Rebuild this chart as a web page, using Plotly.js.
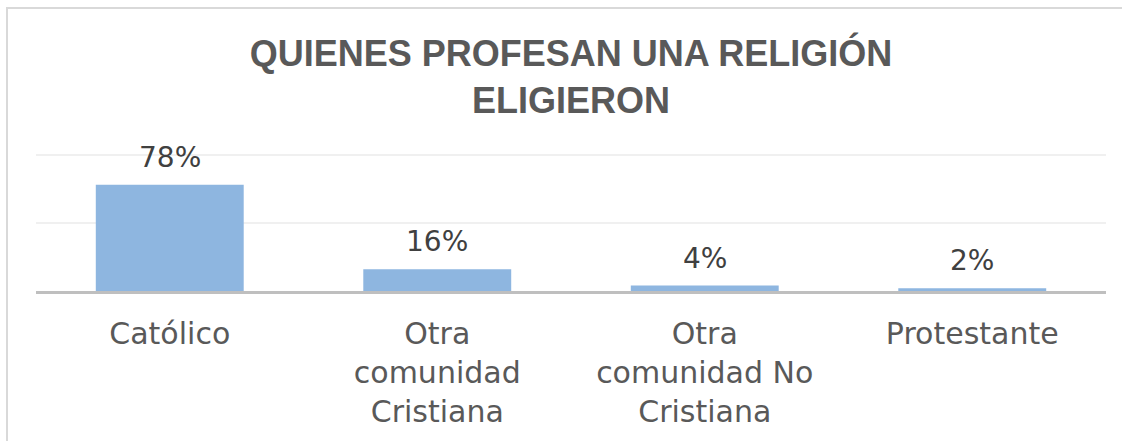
<!DOCTYPE html>
<html>
<head>
<meta charset="utf-8">
<script src="https://cdn.plot.ly/plotly-3.0.1.min.js"></script>
<style>
  html, body { margin: 0; padding: 0; background: #ffffff; }
  #wrap { position: relative; width: 1122px; height: 441px; overflow: hidden; }
  #chart { position: absolute; left: 0; top: 0; width: 1122px; height: 441px; }
  #frame { position: absolute; left: 6px; top: 7px; width: 1200px; height: 500px;
           border-top: 2px solid #d9d9d9; border-left: 2px solid #d9d9d9; pointer-events: none; }
</style>
</head>
<body>
<div id="wrap">
  <div id="chart"></div>
  <div id="frame"></div>
</div>
<script>
const categories = ["Católico", "Otra<br>comunidad<br>Cristiana", "Otra<br>comunidad No<br>Cristiana", "Protestante"];
const values = [0.78, 0.16, 0.04, 0.02];
const valueLabels = ["78%", "16%", "4%", "2%"];
const titleText = "QUIENES PROFESAN UNA RELIGIÓN<br>ELIGIERON";

const trace = {
  type: "bar",
  x: categories,
  y: values,
  marker: { color: "#8eb6e0" },
  hoverinfo: "skip"
};

const annotations = categories.map((c, i) => ({
  x: c, y: values[i], xref: "x", yref: "y",
  text: valueLabels[i], showarrow: false,
  yanchor: "bottom", yshift: 9,
  font: { family: "DejaVu Sans", size: 28, color: "#404040" }
}));

const layout = {
  width: 1122, height: 441,
  margin: { l: 36, r: 16, t: 152, b: 150 },
  paper_bgcolor: "rgba(0,0,0,0)",
  plot_bgcolor: "rgba(0,0,0,0)",
  bargap: 0.447,
  showlegend: false,
  title: {
    text: titleText,
    x: 0.5, xref: "paper", xanchor: "center",
    y: 0.851, yref: "container", yanchor: "top",
    font: { family: "Liberation Sans", size: 36, color: "#595959", weight: "bold" }
  },
  xaxis: {
    type: "category",
    showline: true, linecolor: "#bfbfbf", linewidth: 2.5,
    ticks: "", showgrid: false, zeroline: false,
    tickfont: { family: "DejaVu Sans", size: 30, color: "#595959" },
    ticklabelstandoff: 14
  },
  yaxis: {
    range: [0, 1.02], dtick: 0.5, tick0: 0,
    showgrid: true, gridcolor: "#f0f0f0", gridwidth: 2,
    zeroline: false, showticklabels: false, ticks: "", showline: false
  },
  annotations: annotations
};

Plotly.newPlot("chart", [trace], layout, { displayModeBar: false, staticPlot: true });
</script>
</body>
</html>
